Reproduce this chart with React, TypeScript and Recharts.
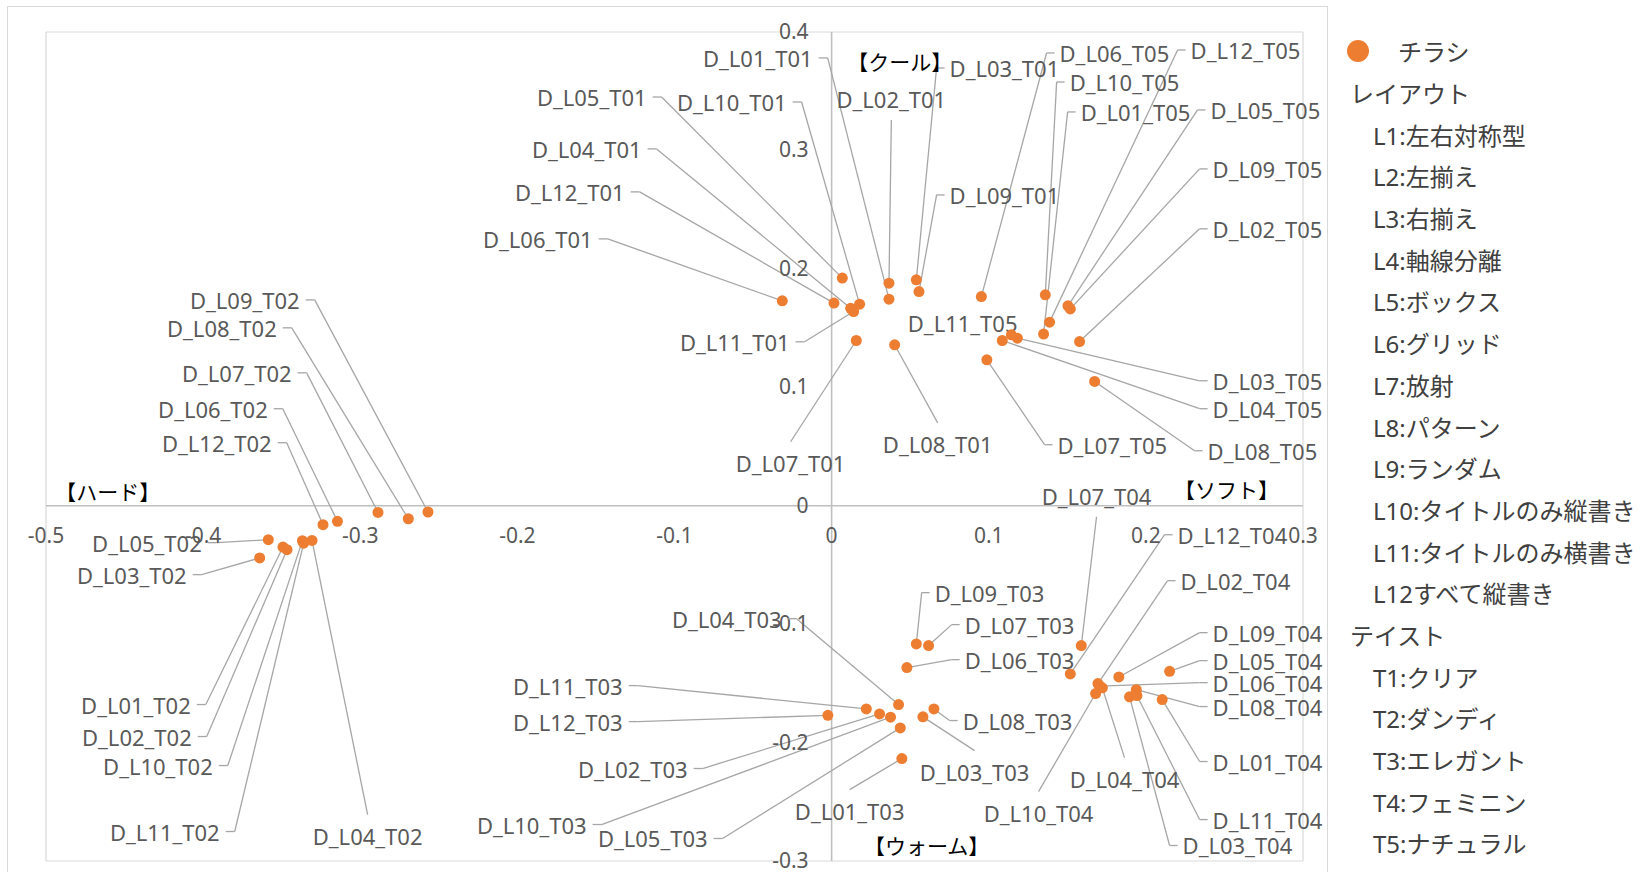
import React from 'react';
import { ScatterChart, Scatter, XAxis, YAxis, CartesianGrid, ReferenceLine, Legend } from 'recharts';

type Side = 'L' | 'R' | 'T' | 'B' | 'N';
type Placement = [Side, number, number];

const FONT = '"Noto Sans", "Noto Sans CJK JP", sans-serif';
const ORANGE = '#ED7D31';
const LEADER = '#a6a6a6';
const TEXT = '#595959';

// categories
const layouts = ['L01', 'L02', 'L03', 'L04', 'L05', 'L06', 'L07', 'L08', 'L09', 'L10', 'L11', 'L12'];
const tasteCodes = ['T01', 'T02', 'T03', 'T04', 'T05'];

// series values (per taste, indexed by layout L01..L12)
const t01X = [0.0365, 0.0365, 0.0539, 0.0121, 0.0068, -0.0314, 0.0157, 0.0401, 0.0556, 0.0178, 0.0140, 0.0015];
const t01Y = [0.1744, 0.1879, 0.1907, 0.1667, 0.1922, 0.1730, 0.1395, 0.1359, 0.1808, 0.1702, 0.1640, 0.1711];
const t02X = [-0.3492, -0.3466, -0.3640, -0.3307, -0.3585, -0.3145, -0.2887, -0.2694, -0.2569, -0.3368, -0.3360, -0.3237];
const t02Y = [-0.0349, -0.0371, -0.0441, -0.0293, -0.0287, -0.0132, -0.0057, -0.0110, -0.0053, -0.0295, -0.0316, -0.0160];
const t03X = [0.0447, 0.0305, 0.0581, 0.0426, 0.0437, 0.0479, 0.0617, 0.0651, 0.0539, 0.0375, 0.0221, -0.0024];
const t03Y = [-0.2135, -0.1758, -0.1783, -0.1679, -0.1876, -0.1367, -0.1181, -0.1716, -0.1167, -0.1786, -0.1716, -0.1770];
const t04X = [0.2104, 0.1695, 0.1896, 0.1723, 0.2151, 0.1705, 0.1589, 0.1939, 0.1828, 0.1680, 0.1943, 0.1519];
const t04Y = [-0.1637, -0.1502, -0.1614, -0.1538, -0.1398, -0.1523, -0.1181, -0.1553, -0.1446, -0.1586, -0.1603, -0.1420];
const t05X = [0.1349, 0.1578, 0.1182, 0.1086, 0.1504, 0.0953, 0.0988, 0.1674, 0.1519, 0.1360, 0.1144, 0.1387];
const t05Y = [0.1449, 0.1386, 0.1415, 0.1395, 0.1688, 0.1766, 0.1232, 0.1049, 0.1662, 0.1781, 0.1443, 0.1550];

// data-label placement (attach point of the leader line, in data units)
const t01Labels: Placement[] = [
  ['L', -0.0025, 0.3781], ['T', 0.0380, 0.3257], ['R', 0.0668, 0.3696], ['L', -0.1114, 0.3013],
  ['L', -0.1082, 0.3451], ['L', -0.1425, 0.2253], ['B', -0.0261, 0.0540], ['B', 0.0675, 0.0700],
  ['R', 0.0668, 0.2624], ['L', -0.0191, 0.3409], ['L', -0.0172, 0.1384], ['L', -0.1222, 0.2650],
];
const t02Labels: Placement[] = [
  ['L', -0.3983, -0.1679], ['L', -0.3977, -0.1949], ['L', -0.4009, -0.0582], ['B', -0.2953, -0.2608],
  ['L', -0.3913, -0.0312], ['L', -0.3493, 0.0819], ['L', -0.3341, 0.1122], ['L', -0.3436, 0.1502],
  ['L', -0.3290, 0.1738], ['L', -0.3843, -0.2194], ['L', -0.3799, -0.2751], ['L', -0.3468, 0.0532],
];
const t03Labels: Placement[] = [
  ['B', 0.0115, -0.2397], ['L', -0.0821, -0.2219], ['B', 0.0910, -0.2068], ['L', -0.0223, -0.0954],
  ['L', -0.0694, -0.2810], ['R', 0.0764, -0.1300], ['R', 0.0764, -0.1004], ['R', 0.0751, -0.1814],
  ['R', 0.0573, -0.0734], ['L', -0.1464, -0.2692], ['L', -0.1234, -0.1519], ['L', -0.1234, -0.1823],
];
const t04Labels: Placement[] = [
  ['R', 0.2342, -0.2160], ['R', 0.2138, -0.0633], ['R', 0.2151, -0.2869], ['B', 0.1864, -0.2127],
  ['R', 0.2342, -0.1308], ['R', 0.2342, -0.1494], ['T', 0.1686, -0.0093], ['R', 0.2342, -0.1696],
  ['R', 0.2342, -0.1072], ['B', 0.1317, -0.2414], ['R', 0.2342, -0.2650], ['R', 0.2119, -0.0245],
];
const t05Labels: Placement[] = [
  ['R', 0.1502, 0.3325], ['R', 0.2342, 0.2338], ['R', 0.2342, 0.1055], ['R', 0.2342, 0.0819],
  ['R', 0.2329, 0.3342], ['R', 0.1368, 0.3823], ['R', 0.1355, 0.0515], ['R', 0.2310, 0.0464],
  ['R', 0.2342, 0.2844], ['R', 0.1432, 0.3578], ['N', 0.0834, 0.1544], ['R', 0.2202, 0.3848],
];

// axis ticks
const xTicks = [-0.5, -0.4, -0.3, -0.2, -0.1, 0, 0.1, 0.2, 0.3];
const yTicks = [-0.3, -0.2, -0.1, 0, 0.1, 0.2, 0.3, 0.4];

// quadrant notes
const noteTexts = ['【ハード】', '【クール】', '【ソフト】', '【ウォーム】'];
const noteX = [-0.4607, 0.0433, 0.2513, 0.0605];
const noteY = [0.0121, 0.3754, 0.0141, -0.2869];

// legend
const seriesName = 'チラシ';
const legendLayoutTitle = 'レイアウト';
const legendLayouts = ['L1:左右対称型', 'L2:左揃え', 'L3:右揃え', 'L4:軸線分離', 'L5:ボックス', 'L6:グリッド', 'L7:放射', 'L8:パターン', 'L9:ランダム', 'L10:タイトルのみ縦書き', 'L11:タイトルのみ横書き', 'L12すべて縦書き'];
const legendTasteTitle = 'テイスト';
const legendTastes = ['T1:クリア', 'T2:ダンディ', 'T3:エレガント', 'T4:フェミニン', 'T5:ナチュラル'];

const tasteX = [t01X, t02X, t03X, t04X, t05X];
const tasteY = [t01Y, t02Y, t03Y, t04Y, t05Y];
const tasteLabels = [t01Labels, t02Labels, t03Labels, t04Labels, t05Labels];

const points = tasteCodes.flatMap((code, ti) =>
  layouts.map((l, i) => ({
    name: `D_${l}_${code}`,
    x: tasteX[ti][i],
    y: tasteY[ti][i],
    side: tasteLabels[ti][i][0],
    lx: tasteLabels[ti][i][1],
    ly: tasteLabels[ti][i][2],
  }))
);
const labelData = points.map((p) => ({ x: p.lx, y: p.ly, name: p.name, side: p.side }));
const xTickData = xTicks.map((v) => ({ x: v, y: 0, t: String(Math.round(v * 10) / 10) }));
const yTickData = yTicks.map((v) => ({ x: 0, y: v, t: String(Math.round(v * 10) / 10) }));
const noteData = noteTexts.map((t, i) => ({ x: noteX[i], y: noteY[i], t }));

const LabelShape = (props: any) => {
  const { cx, cy, payload } = props;
  const side: Side = payload.side;
  const common = { fontFamily: FONT, fontSize: 22, fill: TEXT, dominantBaseline: 'central' as any };
  if (side === 'L') {
    return (
      <g>
        <line x1={cx} y1={cy} x2={cx - 9} y2={cy} stroke={LEADER} strokeWidth={1.3} />
        <text x={cx - 15} y={cy} textAnchor="end" {...common}>{payload.name}</text>
      </g>
    );
  }
  if (side === 'R') {
    return (
      <g>
        <line x1={cx} y1={cy} x2={cx + 8} y2={cy} stroke={LEADER} strokeWidth={1.3} />
        <text x={cx + 13} y={cy} textAnchor="start" {...common}>{payload.name}</text>
      </g>
    );
  }
  if (side === 'T') {
    return <text x={cx} y={cy - 21} textAnchor="middle" {...common}>{payload.name}</text>;
  }
  if (side === 'B') {
    return <text x={cx} y={cy + 21} textAnchor="middle" {...common}>{payload.name}</text>;
  }
  return <text x={cx} y={cy} textAnchor="middle" {...common}>{payload.name}</text>;
};

const PointShape = (props: any) => <circle cx={props.cx} cy={props.cy} r={5.5} fill={ORANGE} />;

const XTickShape = (props: any) => (
  <text x={props.cx} y={props.cy + 29} textAnchor="middle" dominantBaseline="central" fontFamily={FONT} fontSize={21} fill={TEXT}>
    {props.payload.t}
  </text>
);
const YTickShape = (props: any) => (
  <text x={props.cx - 23} y={props.cy - 1} textAnchor="end" dominantBaseline="central" fontFamily={FONT} fontSize={21} fill={TEXT}>
    {props.payload.t}
  </text>
);
const NoteShape = (props: any) => (
  <text x={props.cx} y={props.cy} textAnchor="middle" dominantBaseline="central" fontFamily='"Noto Sans CJK JP", sans-serif' fontSize={21} fill="#000">
    {props.payload.t}
  </text>
);

const ROW = 41.7;
const LegendBox = () => (
  <div style={{ fontFamily: FONT, fontSize: 24, color: '#404040', whiteSpace: 'nowrap' }}>
    <div style={{ height: ROW, display: 'flex', alignItems: 'center' }}>
      <svg width={22} height={22} style={{ marginLeft: 7 }}>
        <circle cx={11} cy={11} r={11} fill={ORANGE} />
      </svg>
      <span style={{ marginLeft: 29 }}>{seriesName}</span>
    </div>
    <div style={{ height: ROW, display: 'flex', alignItems: 'center', paddingLeft: 10 }}>{legendLayoutTitle}</div>
    {legendLayouts.map((t) => (
      <div key={t} style={{ height: ROW, display: 'flex', alignItems: 'center', paddingLeft: 33 }}>{t}</div>
    ))}
    <div style={{ height: ROW, display: 'flex', alignItems: 'center', paddingLeft: 10 }}>{legendTasteTitle}</div>
    {legendTastes.map((t) => (
      <div key={t} style={{ height: ROW, display: 'flex', alignItems: 'center', paddingLeft: 33 }}>{t}</div>
    ))}
  </div>
);

export default function App() {
  return (
    <div style={{ position: 'absolute', left: 0, top: 0, width: 1651, height: 872, background: '#fff', overflow: 'hidden' }}>
      <div style={{ position: 'absolute', left: 7, top: 6, width: 1321, height: 900, border: '1px solid #d9d9d9', boxSizing: 'border-box' }} />
      <div style={{ position: 'absolute', left: 0, top: 0 }}>
        <ScatterChart width={1651} height={872} margin={{ top: 32, left: 46, right: 348, bottom: 11 }} style={{ overflow: 'visible' }}>
          <CartesianGrid stroke="#d9d9d9" strokeWidth={1.2} />
          <XAxis type="number" dataKey="x" domain={[-0.5, 0.3]} ticks={xTicks} height={0} tick={false} tickLine={false} axisLine={false} />
          <YAxis type="number" dataKey="y" domain={[-0.3, 0.4]} ticks={yTicks} width={0} tick={false} tickLine={false} axisLine={false} />
          <ReferenceLine x={0} stroke="#bfbfbf" strokeWidth={1.6} />
          <ReferenceLine y={0} stroke="#bfbfbf" strokeWidth={1.6} />
          <Scatter name="xticks" data={xTickData} shape={XTickShape} legendType="none" isAnimationActive={false} />
          <Scatter name="yticks" data={yTickData} shape={YTickShape} legendType="none" isAnimationActive={false} />
          {points
            .filter((p) => p.side !== 'N')
            .map((p) => (
              <ReferenceLine
                key={`lead-${p.name}`}
                segment={[{ x: p.x, y: p.y }, { x: p.lx, y: p.ly }]}
                stroke={LEADER}
                strokeWidth={1.3}
              />
            ))}
          <Scatter name="labels" data={labelData} shape={LabelShape} legendType="none" isAnimationActive={false} />
          <Scatter name={seriesName} data={points} shape={PointShape} fill={ORANGE} isAnimationActive={false} />
          <Scatter name="notes" data={noteData} shape={NoteShape} legendType="none" isAnimationActive={false} />
          <Legend
            layout="vertical"
            align="center"
            verticalAlign="middle"
            wrapperStyle={{ left: 1340, top: 30, width: 311, height: 842 }}
            content={() => <LegendBox />}
          />
        </ScatterChart>
      </div>
    </div>
  );
}
